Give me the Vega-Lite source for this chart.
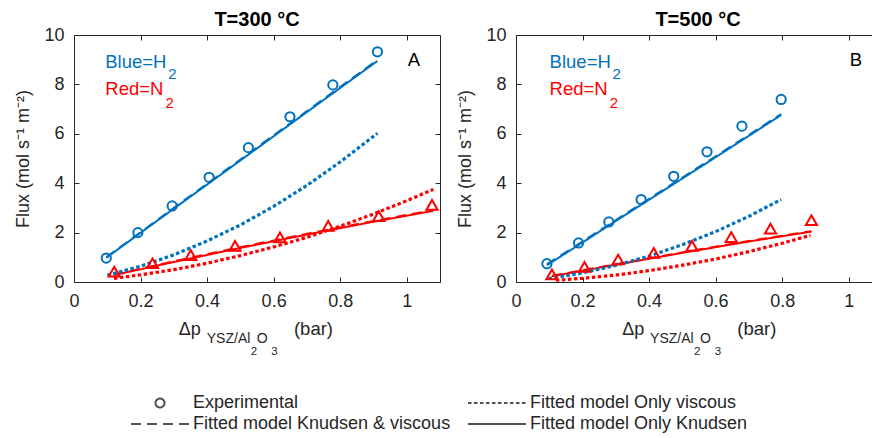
{
  "$schema": "https://vega.github.io/schema/vega-lite/v6.json",
  "padding": {"left": 14, "top": 10, "right": 0, "bottom": 0},
  "background": "white",
  "spacing": 14,
  "datasets": {
    "expA": [
      {"gas": "H2", "x": 0.097, "y": 0.97}, {"gas": "H2", "x": 0.192, "y": 2.0}, {"gas": "H2", "x": 0.295, "y": 3.08}, {"gas": "H2", "x": 0.406, "y": 4.24},
      {"gas": "H2", "x": 0.524, "y": 5.44}, {"gas": "H2", "x": 0.649, "y": 6.69}, {"gas": "H2", "x": 0.778, "y": 7.98}, {"gas": "H2", "x": 0.912, "y": 9.32},
      {"gas": "N2", "x": 0.121, "y": 0.42}, {"gas": "N2", "x": 0.236, "y": 0.76}, {"gas": "N2", "x": 0.351, "y": 1.09}, {"gas": "N2", "x": 0.484, "y": 1.46},
      {"gas": "N2", "x": 0.619, "y": 1.81}, {"gas": "N2", "x": 0.764, "y": 2.27}, {"gas": "N2", "x": 0.916, "y": 2.67}, {"gas": "N2", "x": 1.076, "y": 3.12}
    ],
    "fitA": [
      {"gas": "H2", "model": "Fitted model Only Knudsen", "x": 0.097, "y": 0.98}, {"gas": "H2", "model": "Fitted model Only Knudsen", "x": 0.3, "y": 2.97},
      {"gas": "H2", "model": "Fitted model Only Knudsen", "x": 0.5, "y": 4.92}, {"gas": "H2", "model": "Fitted model Only Knudsen", "x": 0.7, "y": 6.88},
      {"gas": "H2", "model": "Fitted model Only Knudsen", "x": 0.912, "y": 8.95},
      {"gas": "H2", "model": "Fitted model Knudsen & viscous", "x": 0.097, "y": 1.0}, {"gas": "H2", "model": "Fitted model Knudsen & viscous", "x": 0.3, "y": 3.0},
      {"gas": "H2", "model": "Fitted model Knudsen & viscous", "x": 0.5, "y": 4.96}, {"gas": "H2", "model": "Fitted model Knudsen & viscous", "x": 0.7, "y": 6.92},
      {"gas": "H2", "model": "Fitted model Knudsen & viscous", "x": 0.912, "y": 8.99},
      {"gas": "H2", "model": "Fitted model Only viscous", "x": 0.1, "y": 0.27}, {"gas": "H2", "model": "Fitted model Only viscous", "x": 0.2, "y": 0.64},
      {"gas": "H2", "model": "Fitted model Only viscous", "x": 0.3, "y": 1.1}, {"gas": "H2", "model": "Fitted model Only viscous", "x": 0.4, "y": 1.66},
      {"gas": "H2", "model": "Fitted model Only viscous", "x": 0.5, "y": 2.31}, {"gas": "H2", "model": "Fitted model Only viscous", "x": 0.6, "y": 3.06},
      {"gas": "H2", "model": "Fitted model Only viscous", "x": 0.7, "y": 3.91}, {"gas": "H2", "model": "Fitted model Only viscous", "x": 0.8, "y": 4.86},
      {"gas": "H2", "model": "Fitted model Only viscous", "x": 0.912, "y": 6.02},
      {"gas": "N2", "model": "Fitted model Only Knudsen", "x": 0.12, "y": 0.28}, {"gas": "N2", "model": "Fitted model Only Knudsen", "x": 0.3, "y": 0.81},
      {"gas": "N2", "model": "Fitted model Only Knudsen", "x": 0.5, "y": 1.38}, {"gas": "N2", "model": "Fitted model Only Knudsen", "x": 0.7, "y": 1.92},
      {"gas": "N2", "model": "Fitted model Only Knudsen", "x": 0.9, "y": 2.44}, {"gas": "N2", "model": "Fitted model Only Knudsen", "x": 1.08, "y": 2.88},
      {"gas": "N2", "model": "Fitted model Knudsen & viscous", "x": 0.12, "y": 0.3}, {"gas": "N2", "model": "Fitted model Knudsen & viscous", "x": 0.3, "y": 0.84},
      {"gas": "N2", "model": "Fitted model Knudsen & viscous", "x": 0.5, "y": 1.41}, {"gas": "N2", "model": "Fitted model Knudsen & viscous", "x": 0.7, "y": 1.95},
      {"gas": "N2", "model": "Fitted model Knudsen & viscous", "x": 0.9, "y": 2.47}, {"gas": "N2", "model": "Fitted model Knudsen & viscous", "x": 1.08, "y": 2.91},
      {"gas": "N2", "model": "Fitted model Only viscous", "x": 0.12, "y": 0.15}, {"gas": "N2", "model": "Fitted model Only viscous", "x": 0.2, "y": 0.29},
      {"gas": "N2", "model": "Fitted model Only viscous", "x": 0.3, "y": 0.5}, {"gas": "N2", "model": "Fitted model Only viscous", "x": 0.4, "y": 0.76},
      {"gas": "N2", "model": "Fitted model Only viscous", "x": 0.5, "y": 1.07}, {"gas": "N2", "model": "Fitted model Only viscous", "x": 0.6, "y": 1.42},
      {"gas": "N2", "model": "Fitted model Only viscous", "x": 0.7, "y": 1.81}, {"gas": "N2", "model": "Fitted model Only viscous", "x": 0.8, "y": 2.26},
      {"gas": "N2", "model": "Fitted model Only viscous", "x": 0.9, "y": 2.75}, {"gas": "N2", "model": "Fitted model Only viscous", "x": 1.0, "y": 3.29},
      {"gas": "N2", "model": "Fitted model Only viscous", "x": 1.08, "y": 3.75}
    ],
    "expB": [
      {"gas": "H2", "x": 0.093, "y": 0.74}, {"gas": "H2", "x": 0.188, "y": 1.58}, {"gas": "H2", "x": 0.279, "y": 2.43}, {"gas": "H2", "x": 0.376, "y": 3.34},
      {"gas": "H2", "x": 0.474, "y": 4.28}, {"gas": "H2", "x": 0.574, "y": 5.27}, {"gas": "H2", "x": 0.679, "y": 6.31}, {"gas": "H2", "x": 0.797, "y": 7.39},
      {"gas": "N2", "x": 0.108, "y": 0.31}, {"gas": "N2", "x": 0.206, "y": 0.61}, {"gas": "N2", "x": 0.307, "y": 0.91}, {"gas": "N2", "x": 0.414, "y": 1.18},
      {"gas": "N2", "x": 0.529, "y": 1.46}, {"gas": "N2", "x": 0.647, "y": 1.82}, {"gas": "N2", "x": 0.765, "y": 2.16}, {"gas": "N2", "x": 0.888, "y": 2.5}
    ],
    "fitB": [
      {"gas": "H2", "model": "Fitted model Only Knudsen", "x": 0.093, "y": 0.68}, {"gas": "H2", "model": "Fitted model Only Knudsen", "x": 0.2, "y": 1.6},
      {"gas": "H2", "model": "Fitted model Only Knudsen", "x": 0.3, "y": 2.47}, {"gas": "H2", "model": "Fitted model Only Knudsen", "x": 0.4, "y": 3.33},
      {"gas": "H2", "model": "Fitted model Only Knudsen", "x": 0.5, "y": 4.19}, {"gas": "H2", "model": "Fitted model Only Knudsen", "x": 0.6, "y": 5.05},
      {"gas": "H2", "model": "Fitted model Only Knudsen", "x": 0.7, "y": 5.92}, {"gas": "H2", "model": "Fitted model Only Knudsen", "x": 0.797, "y": 6.76},
      {"gas": "H2", "model": "Fitted model Knudsen & viscous", "x": 0.093, "y": 0.72}, {"gas": "H2", "model": "Fitted model Knudsen & viscous", "x": 0.2, "y": 1.64},
      {"gas": "H2", "model": "Fitted model Knudsen & viscous", "x": 0.3, "y": 2.51}, {"gas": "H2", "model": "Fitted model Knudsen & viscous", "x": 0.4, "y": 3.37},
      {"gas": "H2", "model": "Fitted model Knudsen & viscous", "x": 0.5, "y": 4.23}, {"gas": "H2", "model": "Fitted model Knudsen & viscous", "x": 0.6, "y": 5.09},
      {"gas": "H2", "model": "Fitted model Knudsen & viscous", "x": 0.7, "y": 5.96}, {"gas": "H2", "model": "Fitted model Knudsen & viscous", "x": 0.797, "y": 6.8},
      {"gas": "H2", "model": "Fitted model Only viscous", "x": 0.098, "y": 0.14}, {"gas": "H2", "model": "Fitted model Only viscous", "x": 0.2, "y": 0.37},
      {"gas": "H2", "model": "Fitted model Only viscous", "x": 0.3, "y": 0.67}, {"gas": "H2", "model": "Fitted model Only viscous", "x": 0.4, "y": 1.05},
      {"gas": "H2", "model": "Fitted model Only viscous", "x": 0.5, "y": 1.51}, {"gas": "H2", "model": "Fitted model Only viscous", "x": 0.6, "y": 2.04},
      {"gas": "H2", "model": "Fitted model Only viscous", "x": 0.7, "y": 2.66}, {"gas": "H2", "model": "Fitted model Only viscous", "x": 0.797, "y": 3.34},
      {"gas": "N2", "model": "Fitted model Only Knudsen", "x": 0.108, "y": 0.23}, {"gas": "N2", "model": "Fitted model Only Knudsen", "x": 0.3, "y": 0.7},
      {"gas": "N2", "model": "Fitted model Only Knudsen", "x": 0.5, "y": 1.18}, {"gas": "N2", "model": "Fitted model Only Knudsen", "x": 0.7, "y": 1.64},
      {"gas": "N2", "model": "Fitted model Only Knudsen", "x": 0.888, "y": 2.04},
      {"gas": "N2", "model": "Fitted model Knudsen & viscous", "x": 0.108, "y": 0.25}, {"gas": "N2", "model": "Fitted model Knudsen & viscous", "x": 0.3, "y": 0.72},
      {"gas": "N2", "model": "Fitted model Knudsen & viscous", "x": 0.5, "y": 1.2}, {"gas": "N2", "model": "Fitted model Knudsen & viscous", "x": 0.7, "y": 1.66},
      {"gas": "N2", "model": "Fitted model Knudsen & viscous", "x": 0.888, "y": 2.06},
      {"gas": "N2", "model": "Fitted model Only viscous", "x": 0.12, "y": 0.07}, {"gas": "N2", "model": "Fitted model Only viscous", "x": 0.2, "y": 0.15},
      {"gas": "N2", "model": "Fitted model Only viscous", "x": 0.3, "y": 0.28}, {"gas": "N2", "model": "Fitted model Only viscous", "x": 0.4, "y": 0.46},
      {"gas": "N2", "model": "Fitted model Only viscous", "x": 0.5, "y": 0.68}, {"gas": "N2", "model": "Fitted model Only viscous", "x": 0.6, "y": 0.93},
      {"gas": "N2", "model": "Fitted model Only viscous", "x": 0.7, "y": 1.23}, {"gas": "N2", "model": "Fitted model Only viscous", "x": 0.8, "y": 1.57},
      {"gas": "N2", "model": "Fitted model Only viscous", "x": 0.885, "y": 1.89}
    ]
  },
  "hconcat": [
    {
      "width": 366,
      "height": 247,
      "title": {"text": "T=300 °C"},
      "resolve": {"axis": {"x": "independent", "y": "independent"}},
      "layer": [
        {
          "data": {"values": [{}]},
          "mark": {"type": "point", "opacity": 0},
          "encoding": {
            "x": {"datum": 0.5, "type": "quantitative", "scale": {"domain": [0, 1.1], "nice": false, "zero": false}, "axis": {"values": [0, 0.2, 0.4, 0.6, 0.8, 1], "format": "~g", "title": null}},
            "y": {"datum": 5, "type": "quantitative", "scale": {"domain": [0, 10], "nice": false}, "axis": {"values": [0, 2, 4, 6, 8, 10], "title": "Flux (mol s⁻¹ m⁻²)"}}
          }
        },
        {
          "data": {"values": [{}]},
          "mark": {"type": "point", "opacity": 0},
          "encoding": {
            "x": {"datum": 0.5, "type": "quantitative", "scale": {"domain": [0, 1.1], "nice": false, "zero": false}, "axis": {"orient": "top", "labels": false, "title": null, "minExtent": 0, "values": [0, 0.2, 0.4, 0.6, 0.8, 1]}},
            "y": {"datum": 5, "type": "quantitative", "scale": {"domain": [0, 10], "nice": false}, "axis": {"orient": "right", "labels": false, "title": null, "minExtent": 0, "values": [0, 2, 4, 6, 8, 10]}}
          }
        },
        {
          "data": {"name": "fitA"},
          "transform": [{"filter": "datum.model === 'Fitted model Only Knudsen'"}],
          "mark": {"type": "line", "strokeWidth": 2},
          "encoding": {
            "x": {"field": "x", "type": "quantitative", "scale": {"domain": [0, 1.1], "nice": false, "zero": false}, "axis": null},
            "y": {"field": "y", "type": "quantitative", "scale": {"domain": [0, 10], "nice": false}, "axis": null},
            "color": {"field": "gas", "type": "nominal", "scale": {"domain": ["H2", "N2"], "range": ["#0072BD", "#FF0000"]}, "legend": null},
            "strokeDash": {
              "field": "model", "type": "nominal", "sort": null,
              "scale": {"domain": ["Experimental", "Fitted model Knudsen & viscous", "Fitted model Only viscous", "Fitted model Only Knudsen"], "range": [[1, 0], [10, 6], [3.5, 2.5], [1, 0]]},
              "legend": {
                "title": null, "orient": "none", "legendX": 75, "legendY": 357, "columns": 2, "columnPadding": 13, "rowPadding": 1, "padding": 0,
                "labelFont": "Liberation Sans", "labelFontSize": 18, "labelColor": "#262626", "labelLimit": 400, "labelOffset": 22,
                "symbolType": "M-2.9,0H2.9", "symbolSize": 400, "symbolStrokeWidth": 2, "symbolStrokeColor": "#505050",
                "encode": {"symbols": {"update": {
                  "shape": {"signal": "datum.value === 'Experimental' ? 'M0.45,0A0.45,0.45,0,1,1,-0.45,0A0.45,0.45,0,1,1,0.45,0Z' : 'M-2.9,0H2.9'"},
                  "stroke": {"value": "#505050"},
                  "fill": {"value": "transparent"}
                }}}
              }
            }
          }
        },
        {
          "data": {"name": "fitA"},
          "transform": [{"filter": "datum.model === 'Fitted model Knudsen & viscous'"}],
          "mark": {"type": "line", "strokeWidth": 2},
          "encoding": {
            "x": {"field": "x", "type": "quantitative", "scale": {"domain": [0, 1.1], "nice": false, "zero": false}, "axis": null},
            "y": {"field": "y", "type": "quantitative", "scale": {"domain": [0, 10], "nice": false}, "axis": null},
            "color": {"field": "gas", "type": "nominal", "scale": {"domain": ["H2", "N2"], "range": ["#0072BD", "#FF0000"]}, "legend": null},
            "strokeDash": {"field": "model", "type": "nominal", "sort": null, "scale": {"domain": ["Experimental", "Fitted model Knudsen & viscous", "Fitted model Only viscous", "Fitted model Only Knudsen"], "range": [[1, 0], [10, 6], [3.5, 2.5], [1, 0]]}}
          }
        },
        {
          "data": {"name": "fitA"},
          "transform": [{"filter": "datum.model === 'Fitted model Only viscous'"}],
          "mark": {"type": "line", "strokeWidth": 3.2, "strokeCap": "butt"},
          "encoding": {
            "x": {"field": "x", "type": "quantitative", "scale": {"domain": [0, 1.1], "nice": false, "zero": false}, "axis": null},
            "y": {"field": "y", "type": "quantitative", "scale": {"domain": [0, 10], "nice": false}, "axis": null},
            "color": {"field": "gas", "type": "nominal", "scale": {"domain": ["H2", "N2"], "range": ["#0072BD", "#FF0000"]}, "legend": null},
            "strokeDash": {"field": "model", "type": "nominal", "sort": null, "scale": {"domain": ["Experimental", "Fitted model Knudsen & viscous", "Fitted model Only viscous", "Fitted model Only Knudsen"], "range": [[1, 0], [10, 6], [3.5, 2.5], [1, 0]]}}
          }
        },
        {
          "data": {"name": "expA"},
          "mark": {"type": "point", "filled": false, "strokeWidth": 2, "opacity": 1},
          "encoding": {
            "x": {"field": "x", "type": "quantitative", "scale": {"domain": [0, 1.1], "nice": false, "zero": false}, "axis": null},
            "y": {"field": "y", "type": "quantitative", "scale": {"domain": [0, 10], "nice": false}, "axis": null},
            "color": {"field": "gas", "type": "nominal", "scale": {"domain": ["H2", "N2"], "range": ["#0072BD", "#FF0000"]}, "legend": null},
            "shape": {"field": "gas", "type": "nominal", "scale": {"domain": ["H2", "N2"], "range": ["circle", "triangle-up"]}, "legend": null},
            "size": {"field": "gas", "type": "nominal", "scale": {"domain": ["H2", "N2"], "range": [85, 125]}, "legend": null}
          }
        },
        {"data": {"values": [{}]}, "mark": {"type": "text", "align": "left", "baseline": "alphabetic", "font": "Liberation Sans", "fontSize": 18.5, "color": "#0072BD"},
         "encoding": {"text": {"value": "Blue=H"}, "x": {"datum": 0.094, "type": "quantitative", "scale": {"domain": [0, 1.1], "nice": false, "zero": false}, "axis": null}, "y": {"datum": 8.68, "type": "quantitative", "scale": {"domain": [0, 10], "nice": false}, "axis": null}}},
        {"data": {"values": [{}]}, "mark": {"type": "text", "align": "left", "baseline": "alphabetic", "font": "Liberation Sans", "fontSize": 15, "color": "#0072BD"},
         "encoding": {"text": {"value": "2"}, "x": {"datum": 0.283, "type": "quantitative", "scale": {"domain": [0, 1.1], "nice": false, "zero": false}, "axis": null}, "y": {"datum": 8.22, "type": "quantitative", "scale": {"domain": [0, 10], "nice": false}, "axis": null}}},
        {"data": {"values": [{}]}, "mark": {"type": "text", "align": "left", "baseline": "alphabetic", "font": "Liberation Sans", "fontSize": 18.5, "color": "#FF0000"},
         "encoding": {"text": {"value": "Red=N"}, "x": {"datum": 0.094, "type": "quantitative", "scale": {"domain": [0, 1.1], "nice": false, "zero": false}, "axis": null}, "y": {"datum": 7.57, "type": "quantitative", "scale": {"domain": [0, 10], "nice": false}, "axis": null}}},
        {"data": {"values": [{}]}, "mark": {"type": "text", "align": "left", "baseline": "alphabetic", "font": "Liberation Sans", "fontSize": 15, "color": "#FF0000"},
         "encoding": {"text": {"value": "2"}, "x": {"datum": 0.275, "type": "quantitative", "scale": {"domain": [0, 1.1], "nice": false, "zero": false}, "axis": null}, "y": {"datum": 7.06, "type": "quantitative", "scale": {"domain": [0, 10], "nice": false}, "axis": null}}},
        {"data": {"values": [{}]}, "mark": {"type": "text", "align": "left", "baseline": "alphabetic", "font": "Liberation Sans", "fontSize": 18.5, "color": "#000000"},
         "encoding": {"text": {"value": "A"}, "x": {"datum": 1.003, "type": "quantitative", "scale": {"domain": [0, 1.1], "nice": false, "zero": false}, "axis": null}, "y": {"datum": 8.76, "type": "quantitative", "scale": {"domain": [0, 10], "nice": false}, "axis": null}}},
        {"data": {"values": [{}]}, "mark": {"type": "text", "align": "left", "baseline": "alphabetic", "font": "Liberation Sans", "fontSize": 18, "color": "#262626"},
         "encoding": {"text": {"value": "Δp"}, "x": {"datum": 0.315, "type": "quantitative", "scale": {"domain": [0, 1.1], "nice": false, "zero": false}, "axis": null}, "y": {"datum": -2.146, "type": "quantitative", "scale": {"domain": [0, 10], "nice": false}, "axis": null}}},
        {"data": {"values": [{}]}, "mark": {"type": "text", "align": "left", "baseline": "alphabetic", "font": "Liberation Sans", "fontSize": 14, "color": "#262626"},
         "encoding": {"text": {"value": "YSZ/Al"}, "x": {"datum": 0.399, "type": "quantitative", "scale": {"domain": [0, 1.1], "nice": false, "zero": false}, "axis": null}, "y": {"datum": -2.482, "type": "quantitative", "scale": {"domain": [0, 10], "nice": false}, "axis": null}}},
        {"data": {"values": [{}]}, "mark": {"type": "text", "align": "left", "baseline": "alphabetic", "font": "Liberation Sans", "fontSize": 11.5, "color": "#262626"},
         "encoding": {"text": {"value": "2"}, "x": {"datum": 0.531, "type": "quantitative", "scale": {"domain": [0, 1.1], "nice": false, "zero": false}, "axis": null}, "y": {"datum": -2.955, "type": "quantitative", "scale": {"domain": [0, 10], "nice": false}, "axis": null}}},
        {"data": {"values": [{}]}, "mark": {"type": "text", "align": "left", "baseline": "alphabetic", "font": "Liberation Sans", "fontSize": 14, "color": "#262626"},
         "encoding": {"text": {"value": "O"}, "x": {"datum": 0.549, "type": "quantitative", "scale": {"domain": [0, 1.1], "nice": false, "zero": false}, "axis": null}, "y": {"datum": -2.482, "type": "quantitative", "scale": {"domain": [0, 10], "nice": false}, "axis": null}}},
        {"data": {"values": [{}]}, "mark": {"type": "text", "align": "left", "baseline": "alphabetic", "font": "Liberation Sans", "fontSize": 11.5, "color": "#262626"},
         "encoding": {"text": {"value": "3"}, "x": {"datum": 0.593, "type": "quantitative", "scale": {"domain": [0, 1.1], "nice": false, "zero": false}, "axis": null}, "y": {"datum": -2.955, "type": "quantitative", "scale": {"domain": [0, 10], "nice": false}, "axis": null}}},
        {"data": {"values": [{}]}, "mark": {"type": "text", "align": "left", "baseline": "alphabetic", "font": "Liberation Sans", "fontSize": 18.5, "color": "#262626"},
         "encoding": {"text": {"value": "(bar)"}, "x": {"datum": 0.661, "type": "quantitative", "scale": {"domain": [0, 1.1], "nice": false, "zero": false}, "axis": null}, "y": {"datum": -2.146, "type": "quantitative", "scale": {"domain": [0, 10], "nice": false}, "axis": null}}}
      ]
    },
    {
      "width": 356,
      "height": 247,
      "title": {"text": "T=500 °C", "dx": 4},
      "resolve": {"axis": {"x": "independent", "y": "independent"}},
      "layer": [
        {
          "data": {"values": [{}]},
          "mark": {"type": "point", "opacity": 0},
          "encoding": {
            "x": {"datum": 0.5, "type": "quantitative", "scale": {"domain": [0, 1.07], "nice": false, "zero": false}, "axis": {"values": [0, 0.2, 0.4, 0.6, 0.8, 1], "format": "~g", "title": null}},
            "y": {"datum": 5, "type": "quantitative", "scale": {"domain": [0, 10], "nice": false}, "axis": {"values": [0, 2, 4, 6, 8, 10], "title": "Flux (mol s⁻¹ m⁻²)"}}
          }
        },
        {
          "data": {"values": [{}]},
          "mark": {"type": "point", "opacity": 0},
          "encoding": {
            "x": {"datum": 0.5, "type": "quantitative", "scale": {"domain": [0, 1.07], "nice": false, "zero": false}, "axis": {"orient": "top", "labels": false, "title": null, "minExtent": 0, "values": [0, 0.2, 0.4, 0.6, 0.8, 1]}},
            "y": {"datum": 5, "type": "quantitative", "scale": {"domain": [0, 10], "nice": false}, "axis": null}
          }
        },
        {
          "data": {"name": "fitB"},
          "transform": [{"filter": "datum.model === 'Fitted model Only Knudsen'"}],
          "mark": {"type": "line", "strokeWidth": 2},
          "encoding": {
            "x": {"field": "x", "type": "quantitative", "scale": {"domain": [0, 1.07], "nice": false, "zero": false}, "axis": null},
            "y": {"field": "y", "type": "quantitative", "scale": {"domain": [0, 10], "nice": false}, "axis": null},
            "color": {"field": "gas", "type": "nominal", "scale": {"domain": ["H2", "N2"], "range": ["#0072BD", "#FF0000"]}, "legend": null},
            "strokeDash": {"field": "model", "type": "nominal", "sort": null, "scale": {"domain": ["Experimental", "Fitted model Knudsen & viscous", "Fitted model Only viscous", "Fitted model Only Knudsen"], "range": [[1, 0], [10, 6], [3.5, 2.5], [1, 0]]}}
          }
        },
        {
          "data": {"name": "fitB"},
          "transform": [{"filter": "datum.model === 'Fitted model Knudsen & viscous'"}],
          "mark": {"type": "line", "strokeWidth": 2},
          "encoding": {
            "x": {"field": "x", "type": "quantitative", "scale": {"domain": [0, 1.07], "nice": false, "zero": false}, "axis": null},
            "y": {"field": "y", "type": "quantitative", "scale": {"domain": [0, 10], "nice": false}, "axis": null},
            "color": {"field": "gas", "type": "nominal", "scale": {"domain": ["H2", "N2"], "range": ["#0072BD", "#FF0000"]}, "legend": null},
            "strokeDash": {"field": "model", "type": "nominal", "sort": null, "scale": {"domain": ["Experimental", "Fitted model Knudsen & viscous", "Fitted model Only viscous", "Fitted model Only Knudsen"], "range": [[1, 0], [10, 6], [3.5, 2.5], [1, 0]]}}
          }
        },
        {
          "data": {"name": "fitB"},
          "transform": [{"filter": "datum.model === 'Fitted model Only viscous'"}],
          "mark": {"type": "line", "strokeWidth": 3.2, "strokeCap": "butt"},
          "encoding": {
            "x": {"field": "x", "type": "quantitative", "scale": {"domain": [0, 1.07], "nice": false, "zero": false}, "axis": null},
            "y": {"field": "y", "type": "quantitative", "scale": {"domain": [0, 10], "nice": false}, "axis": null},
            "color": {"field": "gas", "type": "nominal", "scale": {"domain": ["H2", "N2"], "range": ["#0072BD", "#FF0000"]}, "legend": null},
            "strokeDash": {"field": "model", "type": "nominal", "sort": null, "scale": {"domain": ["Experimental", "Fitted model Knudsen & viscous", "Fitted model Only viscous", "Fitted model Only Knudsen"], "range": [[1, 0], [10, 6], [3.5, 2.5], [1, 0]]}}
          }
        },
        {
          "data": {"name": "expB"},
          "mark": {"type": "point", "filled": false, "strokeWidth": 2, "opacity": 1},
          "encoding": {
            "x": {"field": "x", "type": "quantitative", "scale": {"domain": [0, 1.07], "nice": false, "zero": false}, "axis": null},
            "y": {"field": "y", "type": "quantitative", "scale": {"domain": [0, 10], "nice": false}, "axis": null},
            "color": {"field": "gas", "type": "nominal", "scale": {"domain": ["H2", "N2"], "range": ["#0072BD", "#FF0000"]}, "legend": null},
            "shape": {"field": "gas", "type": "nominal", "scale": {"domain": ["H2", "N2"], "range": ["circle", "triangle-up"]}, "legend": null},
            "size": {"field": "gas", "type": "nominal", "scale": {"domain": ["H2", "N2"], "range": [85, 125]}, "legend": null}
          }
        },
        {"data": {"values": [{}]}, "mark": {"type": "text", "align": "left", "baseline": "alphabetic", "font": "Liberation Sans", "fontSize": 18.5, "color": "#0072BD"},
         "encoding": {"text": {"value": "Blue=H"}, "x": {"datum": 0.101, "type": "quantitative", "scale": {"domain": [0, 1.07], "nice": false, "zero": false}, "axis": null}, "y": {"datum": 8.68, "type": "quantitative", "scale": {"domain": [0, 10], "nice": false}, "axis": null}}},
        {"data": {"values": [{}]}, "mark": {"type": "text", "align": "left", "baseline": "alphabetic", "font": "Liberation Sans", "fontSize": 15, "color": "#0072BD"},
         "encoding": {"text": {"value": "2"}, "x": {"datum": 0.29, "type": "quantitative", "scale": {"domain": [0, 1.07], "nice": false, "zero": false}, "axis": null}, "y": {"datum": 8.22, "type": "quantitative", "scale": {"domain": [0, 10], "nice": false}, "axis": null}}},
        {"data": {"values": [{}]}, "mark": {"type": "text", "align": "left", "baseline": "alphabetic", "font": "Liberation Sans", "fontSize": 18.5, "color": "#FF0000"},
         "encoding": {"text": {"value": "Red=N"}, "x": {"datum": 0.101, "type": "quantitative", "scale": {"domain": [0, 1.07], "nice": false, "zero": false}, "axis": null}, "y": {"datum": 7.57, "type": "quantitative", "scale": {"domain": [0, 10], "nice": false}, "axis": null}}},
        {"data": {"values": [{}]}, "mark": {"type": "text", "align": "left", "baseline": "alphabetic", "font": "Liberation Sans", "fontSize": 15, "color": "#FF0000"},
         "encoding": {"text": {"value": "2"}, "x": {"datum": 0.282, "type": "quantitative", "scale": {"domain": [0, 1.07], "nice": false, "zero": false}, "axis": null}, "y": {"datum": 7.06, "type": "quantitative", "scale": {"domain": [0, 10], "nice": false}, "axis": null}}},
        {"data": {"values": [{}]}, "mark": {"type": "text", "align": "left", "baseline": "alphabetic", "font": "Liberation Sans", "fontSize": 18.5, "color": "#000000"},
         "encoding": {"text": {"value": "B"}, "x": {"datum": 1.003, "type": "quantitative", "scale": {"domain": [0, 1.07], "nice": false, "zero": false}, "axis": null}, "y": {"datum": 8.76, "type": "quantitative", "scale": {"domain": [0, 10], "nice": false}, "axis": null}}},
        {"data": {"values": [{}]}, "mark": {"type": "text", "align": "left", "baseline": "alphabetic", "font": "Liberation Sans", "fontSize": 18, "color": "#262626"},
         "encoding": {"text": {"value": "Δp"}, "x": {"datum": 0.319, "type": "quantitative", "scale": {"domain": [0, 1.07], "nice": false, "zero": false}, "axis": null}, "y": {"datum": -2.146, "type": "quantitative", "scale": {"domain": [0, 10], "nice": false}, "axis": null}}},
        {"data": {"values": [{}]}, "mark": {"type": "text", "align": "left", "baseline": "alphabetic", "font": "Liberation Sans", "fontSize": 14, "color": "#262626"},
         "encoding": {"text": {"value": "YSZ/Al"}, "x": {"datum": 0.403, "type": "quantitative", "scale": {"domain": [0, 1.07], "nice": false, "zero": false}, "axis": null}, "y": {"datum": -2.482, "type": "quantitative", "scale": {"domain": [0, 10], "nice": false}, "axis": null}}},
        {"data": {"values": [{}]}, "mark": {"type": "text", "align": "left", "baseline": "alphabetic", "font": "Liberation Sans", "fontSize": 11.5, "color": "#262626"},
         "encoding": {"text": {"value": "2"}, "x": {"datum": 0.535, "type": "quantitative", "scale": {"domain": [0, 1.07], "nice": false, "zero": false}, "axis": null}, "y": {"datum": -2.955, "type": "quantitative", "scale": {"domain": [0, 10], "nice": false}, "axis": null}}},
        {"data": {"values": [{}]}, "mark": {"type": "text", "align": "left", "baseline": "alphabetic", "font": "Liberation Sans", "fontSize": 14, "color": "#262626"},
         "encoding": {"text": {"value": "O"}, "x": {"datum": 0.553, "type": "quantitative", "scale": {"domain": [0, 1.07], "nice": false, "zero": false}, "axis": null}, "y": {"datum": -2.482, "type": "quantitative", "scale": {"domain": [0, 10], "nice": false}, "axis": null}}},
        {"data": {"values": [{}]}, "mark": {"type": "text", "align": "left", "baseline": "alphabetic", "font": "Liberation Sans", "fontSize": 11.5, "color": "#262626"},
         "encoding": {"text": {"value": "3"}, "x": {"datum": 0.597, "type": "quantitative", "scale": {"domain": [0, 1.07], "nice": false, "zero": false}, "axis": null}, "y": {"datum": -2.955, "type": "quantitative", "scale": {"domain": [0, 10], "nice": false}, "axis": null}}},
        {"data": {"values": [{}]}, "mark": {"type": "text", "align": "left", "baseline": "alphabetic", "font": "Liberation Sans", "fontSize": 18.5, "color": "#262626"},
         "encoding": {"text": {"value": "(bar)"}, "x": {"datum": 0.665, "type": "quantitative", "scale": {"domain": [0, 1.07], "nice": false, "zero": false}, "axis": null}, "y": {"datum": -2.146, "type": "quantitative", "scale": {"domain": [0, 10], "nice": false}, "axis": null}}}
      ]
    }
  ],
  "resolve": {"scale": {"color": "shared", "shape": "shared", "strokeDash": "shared", "size": "shared"}},
  "config": {
    "font": "Liberation Sans",
    "view": {"stroke": null},
    "axis": {
      "labelFont": "Liberation Sans", "labelFontSize": 18, "labelColor": "#262626",
      "domainColor": "#262626", "tickColor": "#262626", "tickSize": -5, "grid": false,
      "titleFont": "Liberation Sans", "titleFontSize": 18, "titleFontWeight": "normal", "titleColor": "#262626",
      "labelPadding": 15, "titlePadding": 11, "labelFlush": false, "labelOverlap": false
    },
    "title": {"font": "Liberation Sans", "fontSize": 20, "fontWeight": "bold", "color": "#000000", "offset": -4}
  }
}
